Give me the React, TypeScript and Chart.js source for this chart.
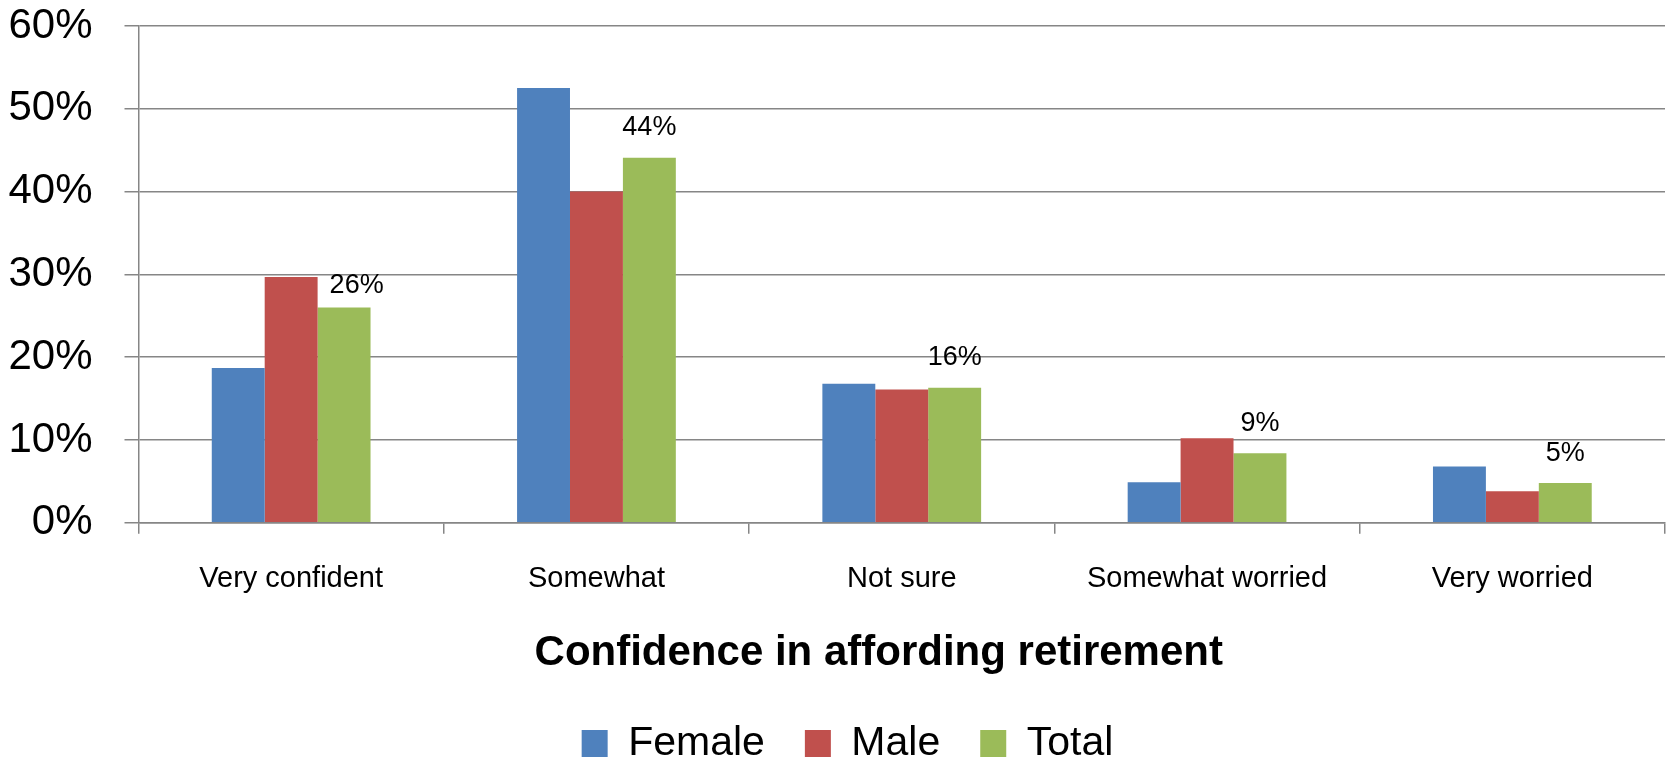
import React, { useEffect, useRef } from "react";
import { Chart, registerables } from "chart.js";

Chart.register(...registerables);

const categories = ["Very confident", "Somewhat", "Not sure", "Somewhat worried", "Very worried"];
const female = [18.7, 52.5, 16.8, 4.9, 6.8];
const male = [29.7, 40.0, 16.1, 10.2, 3.8];
const total = [26.0, 44.1, 16.3, 8.4, 4.8];
const totalLabels = ["26%", "44%", "16%", "9%", "5%"];
const yTicks = [0, 10, 20, 30, 40, 50, 60];
const axisTitle = "Confidence in affording retirement";

const FONT = "'Liberation Sans', Arial, sans-serif";
const GRID = "#868686";
const TITLE_SIZE = 42;
const TITLE_PAD_BOTTOM = 4.5;

const totalLabelPlugin = {
  id: "totalLabels",
  afterDatasetsDraw(chart: any) {
    const meta = chart.getDatasetMeta(2);
    const maleMeta = chart.getDatasetMeta(1);
    const ctx = chart.ctx;
    ctx.save();
    ctx.font = `27px ${FONT}`;
    ctx.fillStyle = "#000";
    ctx.textAlign = "center";
    ctx.textBaseline = "middle";
    meta.data.forEach((bar: any, i: number) => {
      const w = ctx.measureText(totalLabels[i]).width;
      let x = bar.x;
      let y = bar.y - 30;
      // if the label would collide with the neighbouring bar, nudge it right and down
      const left = x - w / 2;
      const nb = maleMeta.data[i];
      if (left < nb.x + nb.width / 2 && nb.y < y + 14) {
        x = bar.x - bar.width / 2 + 12 + w / 2;
        y = bar.y - 22;
      }
      ctx.fillText(totalLabels[i], x, y);
    });
    ctx.restore();
  },
};

// Draws the x-axis title slightly left of plot centre, as in the original.
const axisTitlePlugin = {
  id: "axisTitleDraw",
  afterDraw(chart: any) {
    const xs = chart.scales.x;
    const ctx = chart.ctx;
    const lineH = TITLE_SIZE * 1.2;
    const y = xs.bottom - TITLE_PAD_BOTTOM - lineH / 2;
    const x = (chart.chartArea.left + chart.chartArea.right) / 2 - 23;
    ctx.save();
    ctx.font = `bold ${TITLE_SIZE}px ${FONT}`;
    ctx.fillStyle = "#000";
    ctx.textAlign = "center";
    ctx.textBaseline = "middle";
    ctx.fillText(axisTitle, x, y);
    ctx.restore();
  },
};

// Nudges the legend a little right of the canvas centre, as in the original.
const legendShiftPlugin = {
  id: "legendShift",
  afterLayout(chart: any) {
    const lg = chart.legend;
    if (lg) {
      lg.left += 11;
      lg.right += 11;
    }
  },
};

export default function App() {
  const ref = useRef<HTMLCanvasElement>(null);
  useEffect(() => {
    if (!ref.current) return;
    const chart = new Chart(ref.current, {
      type: "bar",
      data: {
        labels: categories,
        datasets: [
          { label: "Female", data: female, backgroundColor: "#4F81BD" },
          { label: "Male", data: male, backgroundColor: "#C0504D" },
          { label: "Total", data: total, backgroundColor: "#9BBB59" },
        ],
      },
      options: {
        animation: false,
        responsive: true,
        maintainAspectRatio: false,
        layout: { padding: { left: 8, right: 5, top: 0, bottom: -16 } },
        datasets: { bar: { categoryPercentage: 0.52, barPercentage: 1 } },
        plugins: {
          tooltip: { enabled: false },
          legend: {
            position: "bottom",
            labels: {
              boxWidth: 26,
              boxHeight: 27,
              padding: 40,
              color: "#000",
              font: { family: FONT, size: 41 },
            },
          },
        },
        scales: {
          x: {
            grid: {
              drawOnChartArea: false,
              drawTicks: true,
              tickLength: 11,
              color: GRID,
              lineWidth: 1.5,
              offset: true,
            },
            border: { display: true, color: GRID, width: 1.5 },
            ticks: {
              color: "#000",
              padding: 28,
              font: { family: FONT, size: 29 },
              maxRotation: 0,
            },
            title: {
              display: true,
              text: axisTitle,
              color: "rgba(0,0,0,0)",
              font: { family: FONT, size: TITLE_SIZE, weight: "bold" },
              padding: { top: 3.5, bottom: TITLE_PAD_BOTTOM },
            },
          },
          y: {
            min: 0,
            max: 60,
            afterBuildTicks(scale: any) {
              scale.ticks = yTicks.map((v) => ({ value: v }));
            },
            afterFit(scale: any) {
              scale.width = 130.5;
              scale.paddingTop = 26;
            },
            grid: {
              color: GRID,
              lineWidth: 1.5,
              tickLength: 14,
              drawTicks: true,
            },
            border: { display: true, color: GRID, width: 1.5 },
            ticks: {
              color: "#000",
              padding: 32,
              font: { family: FONT, size: 42 },
              callback: (v: any) => `${v}%`,
            },
          },
        },
      },
      plugins: [totalLabelPlugin, axisTitlePlugin, legendShiftPlugin],
    });
    return () => chart.destroy();
  }, []);
  return (
    <div style={{ position: "absolute", left: 0, top: 0, width: 1670, height: 758, background: "#fff" }}>
      <canvas ref={ref} />
    </div>
  );
}
